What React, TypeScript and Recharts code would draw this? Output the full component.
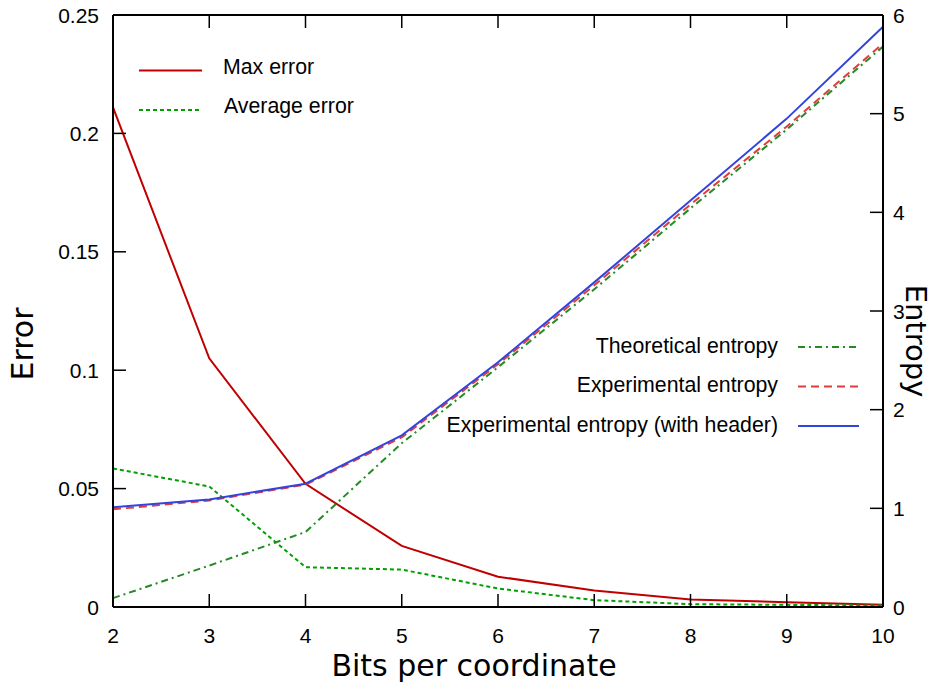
import React from 'react';
import { LineChart, Line, XAxis, YAxis } from 'recharts';

const bits = [2, 3, 4, 5, 6, 7, 8, 9, 10];
const maxError = [0.211, 0.105, 0.052, 0.0258, 0.0128, 0.007, 0.0032, 0.002, 0.0009];
const avgError = [0.0585, 0.0509, 0.0168, 0.0158, 0.0078, 0.0029, 0.0012, 0.0009, 0.0006];
const theoreticalEntropy = [0.09, 0.42, 0.76, 1.66, 2.43, 3.22, 4.04, 4.84, 5.68];
const experimentalEntropy = [0.99, 1.08, 1.24, 1.72, 2.46, 3.26, 4.08, 4.87, 5.71];
const experimentalHeader = [1.01, 1.09, 1.25, 1.74, 2.48, 3.29, 4.12, 4.95, 5.88];

const xTicks = [2, 3, 4, 5, 6, 7, 8, 9, 10];
const errorTicks = [0, 0.05, 0.1, 0.15, 0.2, 0.25];
const errorTickLabels = ['0', '0.05', '0.1', '0.15', '0.2', '0.25'];
const entropyTicks = [0, 1, 2, 3, 4, 5, 6];

const data = bits.map((b, i) => ({
  bits: b,
  maxError: maxError[i],
  avgError: avgError[i],
  theo: theoreticalEntropy[i],
  exp: experimentalEntropy[i],
  expH: experimentalHeader[i],
}));

const W = 933;
const H = 686;
const TICK_FONT = '"Liberation Sans", Arial, sans-serif';
const TITLE_FONT = '"DejaVu Sans", sans-serif';
const TL = 13;

const BottomTick = (p: any) => (
  <g>
    <line x1={p.x} y1={p.y} x2={p.x} y2={p.y - TL} stroke="#000" strokeWidth={1.5} />
    <text x={p.x} y={p.y + 28} textAnchor="middle" dominantBaseline="central" fontFamily={TICK_FONT} fontSize={21} fill="#000">
      {String(p.payload.value)}
    </text>
  </g>
);

const TopTick = (p: any) => (
  <line x1={p.x} y1={p.y} x2={p.x} y2={p.y + TL} stroke="#000" strokeWidth={1.5} />
);

const LeftTick = (p: any) => {
  const idx = errorTicks.indexOf(p.payload.value);
  return (
    <g>
      <line x1={p.x} y1={p.y} x2={p.x + TL} y2={p.y} stroke="#000" strokeWidth={1.5} />
      <text x={p.x - 14} y={p.y} textAnchor="end" dominantBaseline="central" fontFamily={TICK_FONT} fontSize={21} fill="#000">
        {idx >= 0 ? errorTickLabels[idx] : String(p.payload.value)}
      </text>
    </g>
  );
};

const RightTick = (p: any) => (
  <g>
    <line x1={p.x} y1={p.y} x2={p.x - TL} y2={p.y} stroke="#000" strokeWidth={1.5} />
    <text x={p.x + 10} y={p.y} textAnchor="start" dominantBaseline="central" fontFamily={TICK_FONT} fontSize={21} fill="#000">
      {String(p.payload.value)}
    </text>
  </g>
);

const RED = '#c00000';
const GREEN = '#00a000';
const DKGREEN = '#228b22';
const LRED = '#e03c3c';
const BLUE = '#3344dd';

export default function App() {
  return (
    <div style={{ position: 'absolute', left: 0, top: 0, width: W, height: H, background: '#fff' }}>
      <LineChart width={W} height={H} data={data} margin={{ top: 0, right: 0, bottom: 0, left: 0 }}>
        <XAxis
          xAxisId="bottom"
          dataKey="bits"
          type="number"
          domain={[2, 10]}
          ticks={xTicks}
          orientation="bottom"
          height={79}
          tickSize={0}
          tickMargin={0}
          tickLine={false}
          axisLine={{ stroke: '#000', strokeWidth: 2 }}
          tick={BottomTick}
          interval={0}
        />
        <XAxis
          xAxisId="top"
          dataKey="bits"
          type="number"
          domain={[2, 10]}
          ticks={xTicks}
          orientation="top"
          height={15}
          tickSize={0}
          tickMargin={0}
          tickLine={false}
          axisLine={{ stroke: '#000', strokeWidth: 2 }}
          tick={TopTick}
          interval={0}
        />
        <YAxis
          yAxisId="left"
          orientation="left"
          type="number"
          domain={[0, 0.25]}
          ticks={errorTicks}
          width={113}
          tickSize={0}
          tickMargin={0}
          tickLine={false}
          axisLine={{ stroke: '#000', strokeWidth: 2 }}
          tick={LeftTick}
          interval={0}
        />
        <YAxis
          yAxisId="right"
          orientation="right"
          type="number"
          domain={[0, 6]}
          ticks={entropyTicks}
          width={50}
          tickSize={0}
          tickMargin={0}
          tickLine={false}
          axisLine={{ stroke: '#000', strokeWidth: 2 }}
          tick={RightTick}
          interval={0}
        />
        <Line xAxisId="bottom" yAxisId="left" type="linear" dataKey="maxError" stroke={RED} strokeWidth={2} dot={false} isAnimationActive={false} />
        <Line xAxisId="bottom" yAxisId="left" type="linear" dataKey="avgError" stroke={GREEN} strokeWidth={2} strokeDasharray="4 3" dot={false} isAnimationActive={false} />
        <Line xAxisId="bottom" yAxisId="right" type="linear" dataKey="theo" stroke={DKGREEN} strokeWidth={2} strokeDasharray="7 4 2 4" dot={false} isAnimationActive={false} />
        <Line xAxisId="bottom" yAxisId="right" type="linear" dataKey="exp" stroke={LRED} strokeWidth={2} strokeDasharray="8 5" dot={false} isAnimationActive={false} />
        <Line xAxisId="bottom" yAxisId="right" type="linear" dataKey="expH" stroke={BLUE} strokeWidth={2} dot={false} isAnimationActive={false} />
      </LineChart>
      <svg width={W} height={H} style={{ position: 'absolute', left: 0, top: 0, pointerEvents: 'none' }}>
        <g fontFamily={TICK_FONT} fontSize={21.3} fill="#000">
          <line x1={139} y1={70.5} x2={202} y2={70.5} stroke={RED} strokeWidth={2} />
          <text x={223} y={67} dominantBaseline="central">Max error</text>
          <line x1={139} y1={110} x2={202} y2={110} stroke={GREEN} strokeWidth={2} strokeDasharray="4 3" />
          <text x={224} y={106} dominantBaseline="central">Average error</text>

          <text x={778} y={346} textAnchor="end" dominantBaseline="central">Theoretical entropy</text>
          <line x1={798} y1={347} x2={859} y2={347} stroke={DKGREEN} strokeWidth={2} strokeDasharray="7 4 2 4" />
          <text x={778} y={385} textAnchor="end" dominantBaseline="central">Experimental entropy</text>
          <line x1={798} y1={386.5} x2={859} y2={386.5} stroke={LRED} strokeWidth={2} strokeDasharray="8 5" />
          <text x={778} y={424.5} textAnchor="end" dominantBaseline="central">Experimental entropy (with header)</text>
          <line x1={798} y1={426} x2={859} y2={426} stroke={BLUE} strokeWidth={2} />
        </g>
        <g fontFamily={TITLE_FONT} fill="#000">
          <text x={474} y={676} textAnchor="middle" fontSize={30}>Bits per coordinate</text>
          <text x={33} y={344} textAnchor="middle" fontSize={30} transform="rotate(-90 33 344)">Error</text>
          <text x={906} y={341} textAnchor="middle" fontSize={29} transform="rotate(90 906 341)">Entropy</text>
        </g>
      </svg>
    </div>
  );
}
